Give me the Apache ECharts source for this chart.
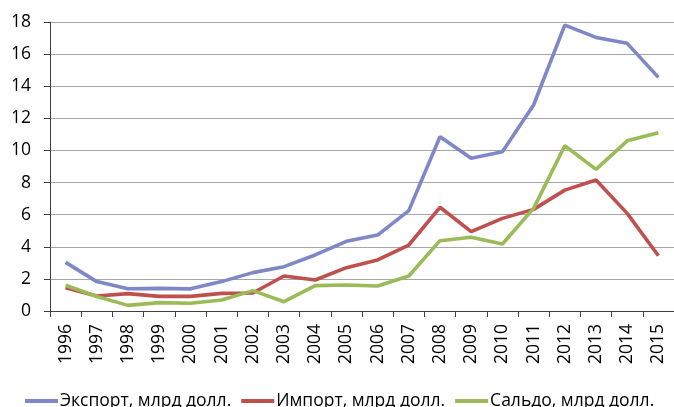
<!DOCTYPE html>
<html><head><meta charset="utf-8">
<script src="https://cdn.jsdelivr.net/npm/echarts@6/dist/echarts.min.js"></script>
<style>html,body{margin:0;padding:0;background:#fff}#c{width:674px;height:407px}</style>
</head><body><div id="c"></div>
<script>
const years = ['1996','1997','1998','1999','2000','2001','2002','2003','2004','2005','2006','2007','2008','2009','2010','2011','2012','2013','2014','2015'];
const exportVals = [3.03,1.83,1.39,1.41,1.38,1.83,2.39,2.76,3.49,4.34,4.73,6.25,10.85,9.51,9.92,12.83,17.81,17.04,16.67,14.55];
const importVals = [1.45,0.93,1.08,0.91,0.91,1.1,1.12,2.18,1.93,2.7,3.18,4.11,6.46,4.94,5.77,6.33,7.53,8.16,6.08,3.44];
const saldoVals = [1.6,0.9,0.35,0.52,0.48,0.68,1.27,0.58,1.58,1.62,1.56,2.18,4.38,4.59,4.17,6.39,10.29,8.82,10.6,11.1];
const names = ['Экспорт, млрд долл.','Импорт, млрд долл.','Сальдо, млрд долл.'];
const colors = ['#7f87c6','#c0504d','#9bbb59'];
const font = '"Open Sans", sans-serif';
const chart = echarts.init(document.getElementById('c'), null, {renderer:'canvas'});
const mk = (i, d) => ({name:names[i], type:'line', data:d, symbol:'none', color:colors[i],
  lineStyle:{width:3.6, color:colors[i]}, animation:false});
chart.setOption({
  animation:false,
  textStyle:{fontFamily:font},
  grid:{left:50, width:627, top:22, height:289, containLabel:false},
  legend:{left:25, top:392, width:670, padding:0, itemWidth:33, itemHeight:4, itemGap:10, icon:'rect',
    data:names, textStyle:{fontFamily:font, fontSize:17.5, color:'#000', padding:[0,0,0,-3]}},
  xAxis:{type:'category', data:years, boundaryGap:true,
    axisLine:{lineStyle:{color:'#404040', width:1}},
    axisTick:{show:true, length:6, lineStyle:{color:'#404040'}},
    axisLabel:{rotate:90, margin:13, fontSize:17.5, color:'#000', fontFamily:font}},
  yAxis:{type:'value', min:0, max:18, interval:2,
    axisLine:{show:true, lineStyle:{color:'#404040', width:1}},
    axisTick:{show:true, length:6, lineStyle:{color:'#404040'}},
    splitLine:{lineStyle:{color:'#a6a6a6', width:1}},
    axisLabel:{margin:19, fontSize:17.5, color:'#000', fontFamily:font}},
  series:[mk(0,exportVals), mk(1,importVals), mk(2,saldoVals)]
});
</script></body></html>
